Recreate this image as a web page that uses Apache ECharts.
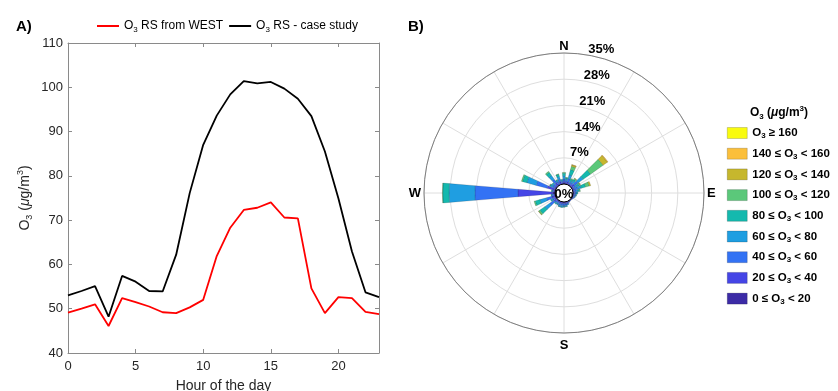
<!DOCTYPE html>
<html><head><meta charset="utf-8">
<script src="https://cdn.jsdelivr.net/npm/echarts@6/dist/echarts.min.js"></script>
<style>html,body{margin:0;padding:0;background:#fff}#c{width:838px;height:391px}</style>
</head><body><div id="c"></div>
<script>
// ---------- Panel A data ----------
const hours = [0,1,2,3,4,5,6,7,8,9,10,11,12,13,14,15,16,17,18,19,20,21,22,23];
const o3West = [49.1,50.0,51.0,46.1,52.4,51.5,50.5,49.2,49.0,50.3,52.0,61.9,68.3,72.3,72.8,74.0,70.6,70.4,54.6,49.0,52.6,52.4,49.3,48.8];
const o3Case = [53.0,54.0,55.1,48.2,57.4,56.1,54.0,53.9,62.2,76.1,87.0,93.6,98.4,101.4,100.9,101.2,99.7,97.4,93.5,85.5,74.9,62.9,53.7,52.6];
const lineNames = ['O3 RS from WEST','O3 RS - case study'];

// ---------- Panel B data (wind rose, % frequency per 10° sector) ----------
const directions = ['0','10','20','30','40','50','60','70','80','90','100','110','120','130','140','150','160','170','180','190','200','210','220','230','240','250','260','270','280','290','300','310','320','330','340','350'];
const c0_20   = [0.2,0.1,0.2,0.1,0.1,0.2,0.1,0.1,0.1,0.1,0.1,0.1,0.1,0.1,0.1,0.1,0.1,0.1,0.1,0.1,0.1,0.1,0.1,0.2,0.1,0.2,0.1,0.6,0.1,0.3,0.1,0.1,0.2,0.1,0.1,0.1];
const c20_40  = [0.5,0.4,0.5,0.3,0.4,0.8,0.4,0.5,0.3,0.3,0.3,0.2,0.2,0.1,0.1,0.2,0.3,0.4,0.4,0.4,0.4,0.3,0.3,0.7,0.4,0.8,0.3,9.3,0.3,2.0,0.4,0.4,0.8,0.4,0.6,0.3];
const c40_60  = [0.7,0.5,0.9,0.4,0.5,1.2,0.5,0.8,0.5,0.4,0.3,0.3,0.2,0.1,0.1,0.1,0.3,0.4,0.5,0.5,0.5,0.4,0.4,1.4,0.5,1.5,0.4,11.5,0.3,3.0,0.6,0.5,1.1,0.5,0.7,0.4];
const c60_80  = [0.8,0.4,1.1,0.5,0.6,1.7,0.6,1.0,0.5,0.3,0.2,0.2,0,0,0,0,0.2,0.3,0.3,0.4,0.4,0.3,0.3,1.6,0.4,1.8,0.2,6.9,0.2,2.6,0.5,0.4,1.3,0.4,0.8,0.3];
const c80_100 = [0.7,0.3,1.4,0.4,0.5,2.4,0.5,1.2,0.4,0.2,0.1,0,0,0,0,0,0,0.1,0.1,0.1,0.1,0.1,0.2,1.6,0.2,1.3,0.1,1.7,0.1,1.2,0.2,0.2,1.0,0.2,0.6,0.2];
const c100_120= [0.2,0.1,0.9,0.2,0.3,4.1,0.3,1.0,0.2,0,0,0,0,0,0,0,0,0,0,0,0,0,0,0.4,0,0.3,0,0.1,0,0.3,0.1,0,0.3,0,0.1,0];
const c120_140= [0,0,0.4,0,0.1,1.4,0.1,0.4,0,0,0,0,0,0,0,0,0,0,0,0,0,0,0,0.1,0,0,0,0,0,0,0,0,0,0,0,0];
const c140_160= [0,0,0.1,0,0,0.2,0,0,0,0,0,0,0,0,0,0,0,0,0,0,0,0,0,0,0,0,0,0,0,0,0,0,0,0,0,0];
const c160    = [0,0,0,0,0,0,0,0,0,0,0,0,0,0,0,0,0,0,0,0,0,0,0,0,0,0,0,0,0,0,0,0,0,0,0,0];
const classNames = ['0 ≤ O3 < 20','20 ≤ O3 < 40','40 ≤ O3 < 60','60 ≤ O3 < 80','80 ≤ O3 < 100','100 ≤ O3 < 120','120 ≤ O3 < 140','140 ≤ O3 < 160','O3 ≥ 160'];
const classValues = [c0_20,c20_40,c40_60,c60_80,c80_100,c100_120,c120_140,c140_160,c160];
const classColors = ['#3c2ba6','#4545e6','#3372f4','#1f9ee1','#14b9ae','#5bc87a','#c6b72d','#fbbf3a','#f9fb0e'];
const radiusTicks = [0,7,14,21,28,35];
const cardinal = {0:'{n|N}',90:'{e|E}',180:'{s|S}',270:'{e|W}'};

// ---------- helpers ----------
const FONT = '"Liberation Sans", Arial, Helvetica, sans-serif';
function o3Rich(name, bold){
  const t = bold ? 'tb' : 't', s = bold ? 'sb' : 's';
  const parts = name.split('O3');
  let out = '';
  parts.forEach((p,i)=>{
    if(i>0) out += `{${t}|O}{${s}|3}`;
    if(p.length) out += `{${t}|${p}}`;
  });
  return out;
}
const richA = {
  t:{fontSize:12,color:'#000',fontFamily:FONT,lineHeight:16},
  s:{fontSize:8,color:'#000',fontFamily:FONT,lineHeight:8,verticalAlign:'bottom'}
};
const richB = {
  tb:{fontSize:11.5,color:'#000',fontFamily:FONT,fontWeight:'bold',lineHeight:14},
  sb:{fontSize:8,color:'#000',fontFamily:FONT,fontWeight:'bold',lineHeight:6,verticalAlign:'bottom'}
};
const richAxis = {
  t:{fontSize:14,color:'#262626',fontFamily:FONT,lineHeight:18},
  s:{fontSize:9,color:'#262626',fontFamily:FONT,lineHeight:8,verticalAlign:'bottom'},
  p:{fontSize:9,color:'#262626',fontFamily:FONT,lineHeight:8,verticalAlign:'top'},
  i:{fontSize:14,color:'#262626',fontFamily:FONT,fontStyle:'italic',lineHeight:18}
};
const richLegTitle = {
  tb:{fontSize:12,color:'#000',fontFamily:FONT,fontWeight:'bold',lineHeight:16},
  sb:{fontSize:8,color:'#000',fontFamily:FONT,fontWeight:'bold',lineHeight:8,verticalAlign:'bottom'},
  pb:{fontSize:8,color:'#000',fontFamily:FONT,fontWeight:'bold',lineHeight:8,verticalAlign:'top'},
  ib:{fontSize:12,color:'#000',fontFamily:FONT,fontWeight:'bold',fontStyle:'italic',lineHeight:16}
};
const richCard = {
  n:{fontSize:13,fontWeight:'bold',color:'#000',fontFamily:FONT,lineHeight:8},
  s:{fontSize:13,fontWeight:'bold',color:'#000',fontFamily:FONT,lineHeight:18},
  e:{fontSize:13,fontWeight:'bold',color:'#000',fontFamily:FONT,lineHeight:14}
};

const axisGray = '#8a8a8a';
const CX = 564, CY = 193, R0 = 9, R1 = 140;

const chart = echarts.init(document.getElementById('c'), null, {renderer:'canvas'});

const lineSeries = [
  {name:lineNames[0], type:'line', xAxisIndex:0, yAxisIndex:0, symbol:'none', color:'#ff0000',
   lineStyle:{width:1.8,color:'#ff0000'}, data: hours.map((h,i)=>[h,o3West[i]]), z:3},
  {name:lineNames[1], type:'line', xAxisIndex:0, yAxisIndex:0, symbol:'none', color:'#000000',
   lineStyle:{width:1.8,color:'#000000'}, data: hours.map((h,i)=>[h,o3Case[i]]), z:3}
];
const barSeries = classNames.map((n,k)=>({
  name:n, type:'bar', coordinateSystem:'polar', polarIndex:0, stack:'rose',
  barCategoryGap:'6%', color:classColors[k],
  itemStyle:{color:classColors[k], borderColor:'rgba(0,0,0,0.28)', borderWidth:0.5},
  data: classValues[k].map(v => v > 0 ? v : null),
  z:2
}));

const option = {
  animation:false,
  backgroundColor:'#fff',
  textStyle:{fontFamily:FONT},
  title:[
    {text:'A)', left:11, top:14, textStyle:{fontSize:15,fontWeight:'bold',color:'#000',fontFamily:FONT}},
    {text:'B)', left:403, top:14, textStyle:{fontSize:15,fontWeight:'bold',color:'#000',fontFamily:FONT}}
  ],
  legend:[
    {data:lineNames, left:97, top:20, padding:0, orient:'horizontal', icon:'rect', itemWidth:22, itemHeight:2, itemGap:6,
     formatter: n => o3Rich(n,false), textStyle:{rich:richA, fontSize:12}},
    {data:classNames.slice().reverse(), left:727, top:127, padding:0, orient:'vertical', icon:'rect', itemWidth:20, itemHeight:11, itemGap:7.7,
     formatter: n => o3Rich(n,true), textStyle:{rich:richB, fontSize:11.5},
     itemStyle:{borderColor:'rgba(0,0,0,0.35)', borderWidth:0.5}}
  ],
  grid:{left:68, top:43, width:311, height:310, show:false, outerBoundsMode:'none', containLabel:false},
  xAxis:[
    {type:'value', min:0, max:23, interval:5, position:'bottom',
     axisLine:{show:true, onZero:false, lineStyle:{color:axisGray,width:1}},
     axisTick:{show:true, inside:true, length:4, lineStyle:{color:axisGray}},
     axisLabel:{color:'#262626', fontSize:13, margin:7, showMaxLabel:false, fontFamily:FONT},
     splitLine:{show:false},
     name:'Hour of the day', nameLocation:'middle', nameGap:26,
     nameTextStyle:{fontSize:14,color:'#262626',fontFamily:FONT}},
    {type:'value', min:0, max:23, interval:5, position:'top',
     axisLine:{show:true, onZero:false, lineStyle:{color:axisGray,width:1}},
     axisTick:{show:true, inside:true, length:4, lineStyle:{color:axisGray}},
     axisLabel:{show:false}, splitLine:{show:false}}
  ],
  yAxis:[
    {type:'value', min:40, max:110, interval:10, position:'left',
     axisLine:{show:true, onZero:false, lineStyle:{color:axisGray,width:1}},
     axisTick:{show:true, inside:true, length:4, lineStyle:{color:axisGray}},
     axisLabel:{color:'#262626', fontSize:13, margin:5, fontFamily:FONT},
     splitLine:{show:false},
     name:'{t|O}{s|3}{t| (}{i|μ}{t|g/m}{p|3}{t|)}', nameLocation:'middle', nameGap:34, nameRotate:90,
     nameTextStyle:{rich:richAxis}},
    {type:'value', min:40, max:110, interval:10, position:'right',
     axisLine:{show:true, onZero:false, lineStyle:{color:axisGray,width:1}},
     axisTick:{show:true, inside:true, length:4, lineStyle:{color:axisGray}},
     axisLabel:{show:false}, splitLine:{show:false}}
  ],
  polar:[
    {center:[CX,CY], radius:[R0,R1]},
    {center:[CX,CY], radius:[R0,R1]},
    {center:[CX,CY], radius:[R0,R1]}
  ],
  angleAxis:[
    {polarIndex:0, type:'category', data:directions, startAngle:95, clockwise:true, boundaryGap:true,
     axisLine:{show:false}, axisTick:{show:false}, axisLabel:{show:false}, splitLine:{show:false}, z:1},
    {polarIndex:1, type:'value', min:0, max:360, interval:30, startAngle:90, clockwise:true,
     axisLine:{show:true, lineStyle:{color:'#7f7f7f', width:1}},
     axisTick:{show:false},
     splitLine:{show:true, lineStyle:{color:'#dedede', width:1}},
     axisLabel:{show:true, margin:3, formatter: v => cardinal[v] || '', rich:richCard, fontSize:13, fontWeight:'bold', color:'#000', fontFamily:FONT},
     z:0},
    {polarIndex:2, type:'value', min:0, max:360, startAngle:80, clockwise:true, show:false}
  ],
  radiusAxis:[
    {polarIndex:0, type:'value', min:0, max:35, interval:7, show:false},
    {polarIndex:1, type:'value', min:0, max:35, interval:7,
     axisLine:{show:false}, axisTick:{show:false}, axisLabel:{show:false},
     splitLine:{show:true, lineStyle:{color:'#dedede', width:1}}, z:0},
    {polarIndex:2, type:'value', min:0, max:35, interval:7,
     axisLine:{show:false}, axisTick:{show:false}, splitLine:{show:false},
     axisLabel:{show:true, showMinLabel:false, margin:0, align:'left', verticalAlign:'bottom', lineHeight:11,
       formatter: v => v + '%', fontSize:13, fontWeight:'bold', color:'#000', fontFamily:FONT}, z:5}
  ],
  graphic:[
    {type:'circle', shape:{cx:CX, cy:CY, r:R0}, style:{fill:'#fff', stroke:'#000', lineWidth:1}, z:100},
    {type:'text', x:CX, y:CY+1, style:{text:'0%', fontSize:13, fontWeight:'bold', fill:'#000', fontFamily:FONT, align:'center', verticalAlign:'middle'}, z:101},
    {type:'text', x:779, y:113, style:{text:'{tb|O}{sb|3}{tb| (}{ib|μ}{tb|g/m}{pb|3}{tb|)}', rich:richLegTitle, align:'center', verticalAlign:'middle'}, z:101}
  ],
  series: lineSeries.concat(barSeries)
};
chart.setOption(option);
</script>
</body></html>
